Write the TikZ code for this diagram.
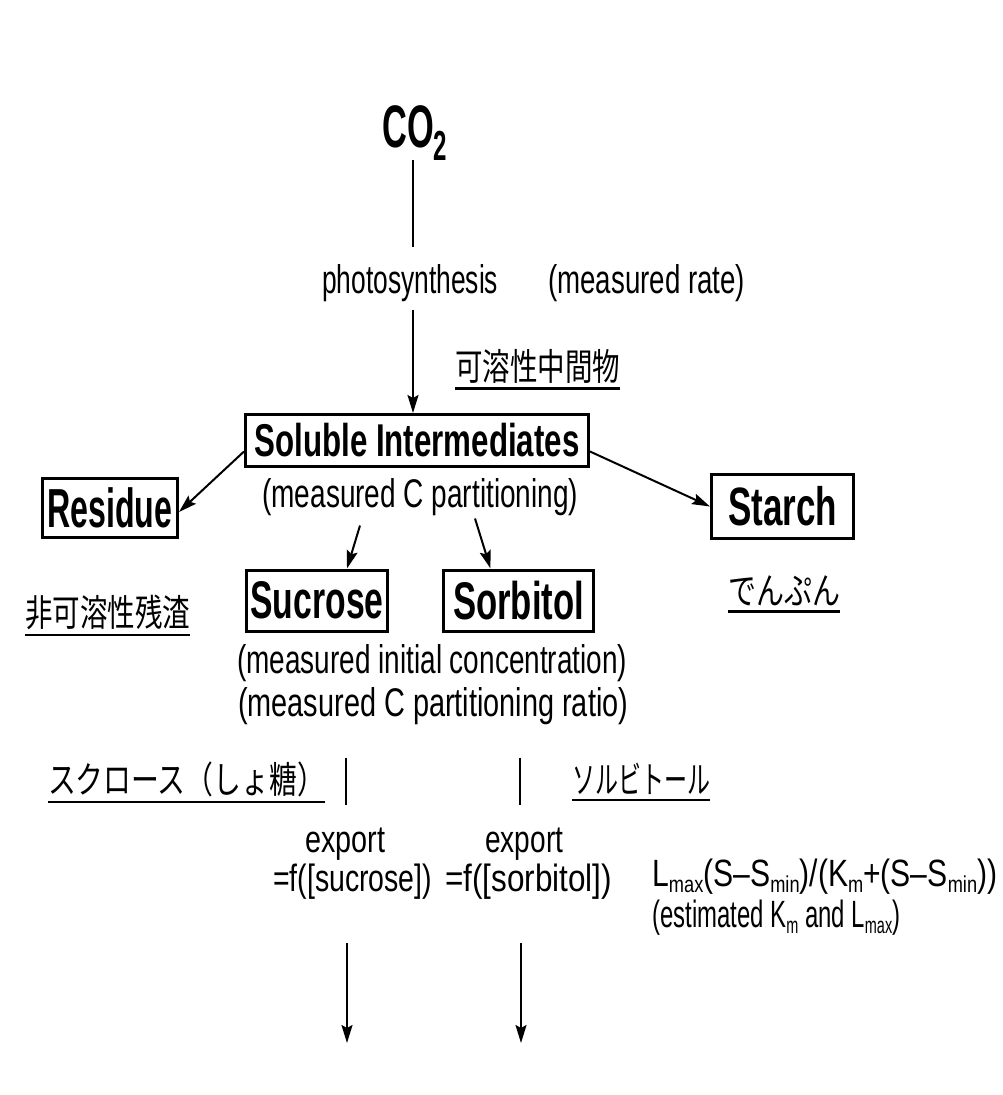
\documentclass[tikz,border=0pt]{standalone}
\usepackage{fontspec}
\setmainfont{Liberation Sans}
\newfontfamily\jpfont{Noto Sans CJK JP}
\usepackage{graphicx}
\usetikzlibrary{arrows.meta}
\newsavebox\tbox
\newcommand\T[3]{\sbox\tbox{\fontsize{#2}{#2}\selectfont #3}\scalebox{\fpeval{#1/(\the\wd\tbox)}}[1]{\usebox\tbox}}
\newcommand\sbs[1]{\raisebox{-6pt}{\fontsize{23}{23}\selectfont #1}}
\begin{document}
\begin{tikzpicture}[x=1pt,y=-1pt,
  box/.style={draw, line width=3pt, inner sep=0pt},
  txt/.style={inner sep=0pt, anchor=base west},
  jp/.style={inner sep=0pt},
  conn/.style={line width=2pt},
  arr/.style={line width=2pt, -{Stealth[length=18pt,width=11pt,inset=3pt]}},
  uline/.style={line width=2.5pt}]
\useasboundingbox (0,0) rectangle (1002,1095);
% texts
\node[txt] (co2) at (382,147) {\T{65}{60}{\bfseries CO\raisebox{-13pt}{\fontsize{42}{42}\selectfont 2}}};
\node[txt] (photo) at (322,293) {\T{176}{40}{photosynthesis}};
\node[txt] (rate) at (548,293) {\T{197}{40}{(measured rate)}};
\node[jp] (jp1) at (537.5,366.5) {\T{165}{37}{\jpfont 可溶性中間物}};
\node[box, minimum width=343pt, minimum height=52pt] (sol) at (417,440.5) {\T{325}{46}{\bfseries Soluble Intermediates}};
\node[txt] (part) at (262,507) {\T{316}{40}{(measured C partitioning)}};
\node[box, minimum width=135pt, minimum height=59pt] (res) at (110,508) {\T{125}{55}{\bfseries Residue}};
\node[box, minimum width=142pt, minimum height=64pt] (starch) at (782.5,506.5) {\T{109}{54}{\bfseries Starch}};
\node[jp] (jpres) at (107.5,612.5) {\T{165}{37}{\jpfont 非可溶性残渣}};
\node[jp] (jpstarch) at (784,591) {\T{112}{37}{\jpfont でんぷん}};
\node[box, minimum width=141pt, minimum height=61pt] (suc) at (317,600.5) {\T{133}{53}{\bfseries Sucrose}};
\node[box, minimum width=150pt, minimum height=61pt] (sor) at (518.5,600.5) {\T{131}{53}{\bfseries Sorbitol}};
\node[txt] (conc) at (237,673) {\T{390}{40}{(measured initial concentration)}};
\node[txt] (ratio) at (238,716) {\T{390}{40}{(measured C partitioning ratio)}};
\node[jp] (jpsuc) at (186.5,779) {\T{277}{37}{\jpfont スクロース（しょ糖）}};
\node[jp] (jpsor) at (641,779) {\T{138}{37}{\jpfont ソルビトール}};
\node[txt] (exp1) at (305,852) {\T{80}{38}{export}};
\node[txt] (exp2) at (485,852) {\T{78}{38}{export}};
\node[txt] (f1) at (273,891) {\T{159}{38}{=f([sucrose])}};
\node[txt] (f2) at (445,891) {\T{167}{38}{=f([sorbitol])}};
\node[txt] (form) at (652,886) {\T{345}{38}{L\sbs{max}(S–S\sbs{min})/(K\sbs{m}+(S–S\sbs{min}))}};
\node[txt] (est) at (652,927) {\T{248}{38}{(estimated K\sbs{m} and L\sbs{max})}};
\coordinate (end1) at (347,1043);
\coordinate (end2) at (521,1043);
% underlines
\foreach \n in {jp1,jpres,jpstarch,jpsuc,jpsor}
  \draw[uline] ([yshift=-5pt]\n.south west) -- ([yshift=-5pt]\n.south east);
% connectors
\draw[conn, shorten >=17pt] ([xshift=-1.5pt]co2.south) -- ([xshift=-1.5pt]co2.south |- photo.north);
\draw[arr, shorten <=8pt] ([xshift=-4pt]sol.north |- photo.south) -- ([xshift=-4pt]sol.north);
\draw[arr] ([yshift=-11pt]sol.west) -- ([yshift=-4pt]res.east);
\draw[arr] ([yshift=-11pt]sol.east) -- (starch.west);
\draw[arr] ([shift={(98pt,-10pt)}]part.south west) -- ([xshift=30pt]suc.north);
\draw[arr] ([shift={(213pt,-3pt)}]part.south west) -- ([xshift=-28pt]sor.north);
\draw[conn, shorten <=33pt, shorten >=22pt] ([xshift=1pt]exp1.north |- ratio.south) -- ([xshift=1pt]exp1.north);
\draw[conn, shorten <=33pt, shorten >=22pt] ([xshift=-4pt]exp2.north |- ratio.south) -- ([xshift=-4pt]exp2.north);
\draw[arr, shorten <=44pt] (end1 |- f1.south) -- (end1);
\draw[arr, shorten <=44pt] (end2 |- f2.south) -- (end2);
\end{tikzpicture}
\end{document}
